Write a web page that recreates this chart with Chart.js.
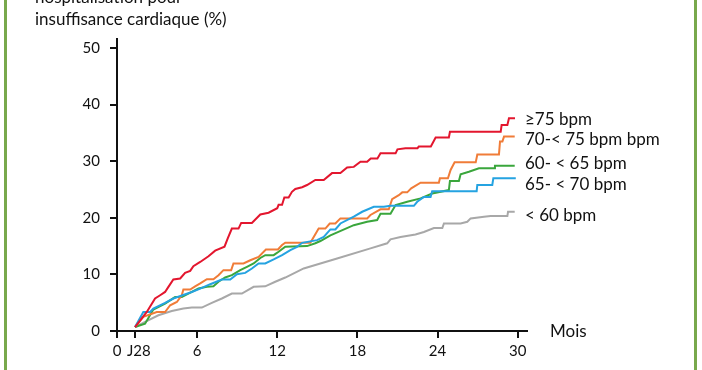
<!DOCTYPE html>
<html>
<head>
<meta charset="utf-8">
<script src="https://cdn.jsdelivr.net/npm/chart.js@4"></script>
<style>
html,body{margin:0;padding:0;background:#fff;}
#wrap{position:relative;width:702px;height:370px;overflow:hidden;background:#fff;}
#frame{position:absolute;left:4px;top:0;width:687px;height:370px;border-left:3px solid #78a84c;border-right:3px solid #78a84c;pointer-events:none;}
canvas{position:absolute;left:0;top:0;}
</style>
</head>
<body>
<div id="wrap"><canvas id="c" width="702" height="370"></canvas><div id="frame"></div></div>
<script>
// ---- Data ----
const titleLines = ['hospitalisation pour', 'insuffisance cardiaque (%)'];
const xAxisName = 'Mois';
const xTickValues = [0, 1.35, 6, 12, 18, 24, 30];
const xTickLabels = ['0', 'J28', '6', '12', '18', '24', '30'];
const yTickValues = [0, 10, 20, 30, 40, 50];
const seriesNames = ['≥75 bpm', '70-< 75 bpm bpm', '60- < 65 bpm', '65- < 70 bpm', '< 60 bpm'];

const redMonths = [1.35,2.23,2.85,3.23,3.6,3.85,4.22,4.73,5.1,5.48,5.72,6.23,6.85,7.35,8.05,8.3,8.6,9.1,9.3,10.1,10.73,11.35,12.0,12.1,12.36,12.53,12.85,13.1,13.35,13.86,14.23,14.85,15.48,16.1,16.73,17.23,17.73,18.23,18.73,19.0,19.5,19.73,20.86,21.0,21.6,22.5,22.6,23.5,23.86,24.85,24.93,28.73,28.8,29.23,29.35,29.8];
const redValues = [0.7,3.36,5.74,6.32,6.9,7.8,9.1,9.28,10.27,10.62,11.46,12.2,13.2,14.2,14.9,16.4,18.1,18.1,19.1,19.1,20.6,20.9,21.7,22.3,22.3,23.6,23.6,24.6,25.1,25.4,25.8,26.7,26.7,27.9,27.9,28.9,29.0,29.9,29.9,30.5,30.5,31.4,31.4,32.1,32.3,32.3,32.6,32.6,34.2,34.2,35.2,35.2,36.4,36.4,37.6,37.6];

const orangeMonths = [1.35,1.97,2.98,3.6,3.98,4.48,4.85,4.97,5.48,5.85,6.23,6.73,7.22,7.6,7.97,8.55,8.72,9.47,9.98,10.6,11.15,12.05,12.36,12.6,14.48,15.1,15.6,15.93,16.35,16.73,18.73,18.98,19.73,20.35,20.6,21.1,21.36,21.73,22.03,22.73,24.1,24.18,24.78,24.98,25.28,26.86,26.98,28.6,28.68,28.86,28.98,29.78];
const orangeValues = [0.7,2.5,3.36,3.36,4.55,5.13,6.32,7.33,7.33,7.9,8.4,9.15,9.15,9.86,10.75,10.75,11.93,11.93,12.5,13.1,14.4,14.4,15.2,15.6,15.6,18.1,18.1,19.0,19.0,19.9,19.9,20.5,21.5,21.5,23.3,24.0,24.5,24.5,25.2,26.2,26.2,27.0,27.0,28.45,29.8,29.8,31.2,31.2,33.5,33.5,34.35,34.35];

const greenMonths = [1.35,2.1,2.72,3.6,4.35,4.85,5.6,6.1,6.73,7.22,7.6,8.1,8.6,9.23,9.73,10.23,10.73,11.1,11.73,12.1,12.6,14.23,14.85,15.23,15.98,17.73,18.73,19.48,19.73,20.48,20.86,21.73,22.73,23.6,24.85,24.93,25.6,25.73,26.35,27.1,28.23,28.3,29.78];
const greenValues = [0.7,1.3,3.8,4.85,6.0,6.0,6.9,7.5,7.8,7.9,8.7,9.45,9.86,10.75,11.33,11.93,12.9,13.4,13.4,14.0,14.9,15.0,15.5,15.9,16.9,18.7,19.3,19.6,20.7,20.7,22.26,22.84,23.44,24.3,24.9,26.5,26.5,27.7,28.15,28.75,28.75,29.2,29.2];

const blueMonths = [1.35,1.97,2.48,2.72,3.6,4.22,5.6,6.23,6.98,7.85,8.48,8.98,9.6,10.1,10.6,11.1,11.73,12.36,12.98,13.48,13.86,14.98,15.48,15.98,16.35,16.73,17.73,18.36,19.23,19.98,20.48,22.23,22.48,22.98,23.48,23.6,26.93,26.98,28.1,28.18,29.86];
const blueValues = [0.7,3.36,3.36,3.97,4.96,5.74,6.9,7.5,8.27,9.1,9.1,10.04,10.27,11.05,11.93,11.93,12.64,13.4,14.29,14.87,15.58,16.06,16.64,17.95,17.95,19.0,20.2,21.07,21.95,21.95,22.13,22.13,22.84,23.7,23.7,24.7,24.7,25.8,25.8,27.0,27.0];

const grayMonths = [1.35,2.1,3.1,4.1,4.97,5.6,6.35,7.1,7.85,8.6,9.35,10.23,11.1,11.85,12.6,13.98,16.48,18.98,20.23,20.48,21.23,22.35,22.98,23.73,24.36,24.48,25.73,26.23,26.48,27.48,27.98,29.23,29.28,29.78];
const grayValues = [0.7,1.6,2.78,3.54,3.97,4.14,4.14,4.96,5.74,6.62,6.62,7.8,7.9,8.7,9.45,11.05,12.8,14.6,15.5,16.2,16.6,17.07,17.5,18.2,18.2,19.0,19.0,19.3,19.9,20.2,20.3,20.3,21.07,21.07];

// ---- Build ----
const seriesMonths = [redMonths, orangeMonths, greenMonths, blueMonths, grayMonths];
const seriesValues = [redValues, orangeValues, greenValues, blueValues, grayValues];
const seriesColors = ['#e3162e', '#f07c38', '#3aa63c', '#25a3e1', '#a8a8a8'];
const drawOrder = [0, 3, 1, 2, 4]; // first = on top
const labelOffsets = [1, 2.5, -2.5, 6, 4];

const FONT = 'Lato, "Open Sans", sans-serif';
const INK = '#111';

function pts(ms, vs) { return ms.map((m, i) => ({x: m, y: vs[i]})); }

const datasets = drawOrder.map(i => ({
  label: seriesNames[i],
  data: pts(seriesMonths[i], seriesValues[i]),
  borderColor: seriesColors[i],
  backgroundColor: seriesColors[i],
  borderWidth: 2,
  pointRadius: 0,
  tension: 0,
  fill: false,
  _idx: i
}));

const textPlugin = {
  id: 'texts',
  afterDraw(chart) {
    const ctx = chart.ctx;
    const ys = chart.scales.y;
    const xs = chart.scales.x;
    ctx.save();
    ctx.fillStyle = INK;
    ctx.font = '17px ' + FONT;
    ctx.textAlign = 'left';
    ctx.textBaseline = 'alphabetic';
    ctx.fillText(titleLines[0], 35, 3);
    ctx.fillText(titleLines[1], 35, 25);
    ctx.textBaseline = 'middle';
    ctx.fillText(xAxisName, xs.right + 23, ys.bottom + 1);
    seriesNames.forEach((name, i) => {
      const vs = seriesValues[i];
      const y = ys.getPixelForValue(vs[vs.length - 1]) + labelOffsets[i];
      ctx.fillText(name, xs.right - 2, y);
    });
    ctx.restore();
  }
};

new Chart(document.getElementById('c'), {
  type: 'line',
  data: { datasets },
  options: {
    responsive: false,
    animation: false,
    devicePixelRatio: 1,
    layout: { padding: { top: 39, right: 175, left: 0, bottom: 0 } },
    plugins: { legend: { display: false }, tooltip: { enabled: false } },
    scales: {
      x: {
        type: 'linear', min: 0, max: 30.7,
        afterBuildTicks: s => { s.ticks = xTickValues.map(v => ({ value: v })); },
        ticks: {
          autoSkip: false, maxRotation: 0, padding: 4, color: INK,
          font: { family: FONT, size: 15 },
          callback: (v, i) => (xTickLabels[i] === 'J28' ? '\u2002' + xTickLabels[i] : xTickLabels[i])
        },
        grid: { drawOnChartArea: false, drawTicks: true, tickLength: 7, color: INK, lineWidth: 2 },
        border: { display: true, color: INK, width: 2 },
        afterFit: s => { s.height = 39; }
      },
      y: {
        type: 'linear', min: 0, max: 51.6,
        afterBuildTicks: s => { s.ticks = yTickValues.map(v => ({ value: v })); },
        ticks: { padding: 10, color: INK, font: { family: FONT, size: 15 } },
        grid: { drawOnChartArea: false, drawTicks: true, tickLength: 7, color: INK, lineWidth: 2 },
        border: { display: true, color: INK, width: 2 },
        afterFit: s => { s.width = 117; }
      }
    }
  },
  plugins: [textPlugin]
});
</script>
</body>
</html>
